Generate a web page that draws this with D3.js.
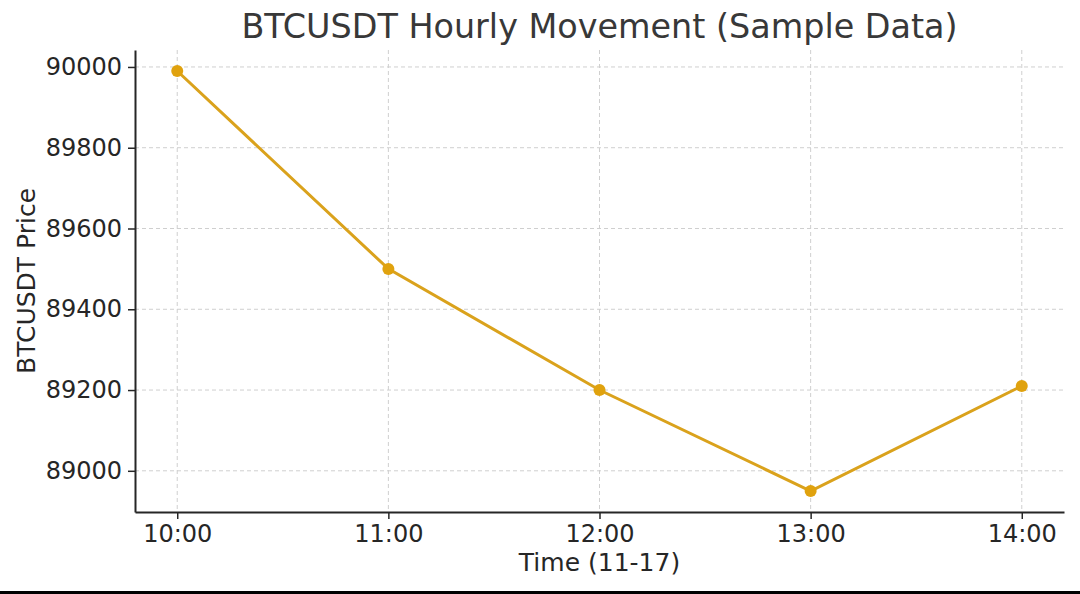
<!DOCTYPE html>
<html>
<head>
<meta charset="utf-8">
<script src="https://cdn.jsdelivr.net/npm/d3@7"></script>
<style>
  body { margin: 0; background: #fff; }
  text { font-family: "DejaVu Sans", sans-serif; fill: #262626; }
</style>
</head>
<body>
<div id="chart"></div>
<script>
var hours = ['10:00', '11:00', '12:00', '13:00', '14:00'];
var prices = [89990, 89500, 89200, 88950, 89210];
var yTicks = [89000, 89200, 89400, 89600, 89800, 90000];

var width = 1080, height = 594;
var plotLeft = 135, plotRight = 1064, plotTop = 50, plotBottom = 512;
var lineColor = '#daa21c';

var svg = d3.select('#chart').append('svg')
    .attr('width', width)
    .attr('height', height);

// matplotlib style 5% margins
var x = d3.scaleLinear().domain([-0.2, hours.length - 1 + 0.2]).range([plotLeft, plotRight]);
var yMin = d3.min(prices), yMax = d3.max(prices), pad = (yMax - yMin) * 0.05;
var y = d3.scaleLinear().domain([yMin - pad, yMax + pad]).range([plotBottom, plotTop]);

// grid
svg.append('g').selectAll('line')
  .data(hours)
  .enter().append('line')
  .attr('x1', function(d, i) { return x(i); })
  .attr('x2', function(d, i) { return x(i); })
  .attr('y1', plotTop).attr('y2', plotBottom)
  .attr('stroke', '#cfcfcf').attr('stroke-width', 1)
  .attr('stroke-dasharray', '4,3');

svg.append('g').selectAll('line')
  .data(yTicks)
  .enter().append('line')
  .attr('x1', plotLeft).attr('x2', plotRight)
  .attr('y1', function(d) { return y(d); })
  .attr('y2', function(d) { return y(d); })
  .attr('stroke', '#cfcfcf').attr('stroke-width', 1)
  .attr('stroke-dasharray', '4,3');

// axes
var xAxis = d3.axisBottom(x)
  .tickValues(d3.range(hours.length))
  .tickFormat(function(i) { return hours[i]; })
  .tickSize(7).tickPadding(6).tickSizeOuter(0);

var yAxis = d3.axisLeft(y)
  .tickValues(yTicks)
  .tickFormat(d3.format('d'))
  .tickSize(7).tickPadding(6).tickSizeOuter(0);

var gx = svg.append('g')
  .attr('transform', 'translate(0,' + plotBottom + ')')
  .call(xAxis);

var gy = svg.append('g')
  .attr('transform', 'translate(' + plotLeft + ',0)')
  .call(yAxis);

[gx, gy].forEach(function(g) {
  g.select('.domain').attr('stroke', '#262626').attr('stroke-width', 2);
  g.selectAll('.tick line').attr('stroke', '#262626').attr('stroke-width', 1.5);
  g.selectAll('.tick text')
    .attr('font-family', '"DejaVu Sans", sans-serif')
    .attr('font-size', 24)
    .attr('fill', '#262626');
});

// line + markers
var line = d3.line()
  .x(function(d, i) { return x(i); })
  .y(function(d) { return y(d); });

svg.append('path')
  .datum(prices)
  .attr('d', line)
  .attr('fill', 'none')
  .attr('stroke', lineColor)
  .attr('stroke-width', 3);

svg.append('g').selectAll('circle')
  .data(prices)
  .enter().append('circle')
  .attr('cx', function(d, i) { return x(i); })
  .attr('cy', function(d) { return y(d); })
  .attr('r', 6)
  .attr('fill', '#e0a20e');

// titles
svg.append('text')
  .attr('x', (plotLeft + plotRight) / 2)
  .attr('y', 38)
  .attr('text-anchor', 'middle')
  .attr('font-size', 33.4)
  .style('fill', '#383838')
  .text('BTCUSDT Hourly Movement (Sample Data)');

svg.append('text')
  .attr('x', (plotLeft + plotRight) / 2)
  .attr('y', 571)
  .attr('text-anchor', 'middle')
  .attr('font-size', 25)
  .text('Time (11-17)');

svg.append('text')
  .attr('transform', 'translate(35,' + ((plotTop + plotBottom) / 2) + ') rotate(-90)')
  .attr('text-anchor', 'middle')
  .attr('font-size', 25)
  .text('BTCUSDT Price');

// bottom edge bar
svg.append('rect')
  .attr('x', 0).attr('y', 591)
  .attr('width', width).attr('height', 3)
  .attr('fill', '#000');
</script>
</body>
</html>
